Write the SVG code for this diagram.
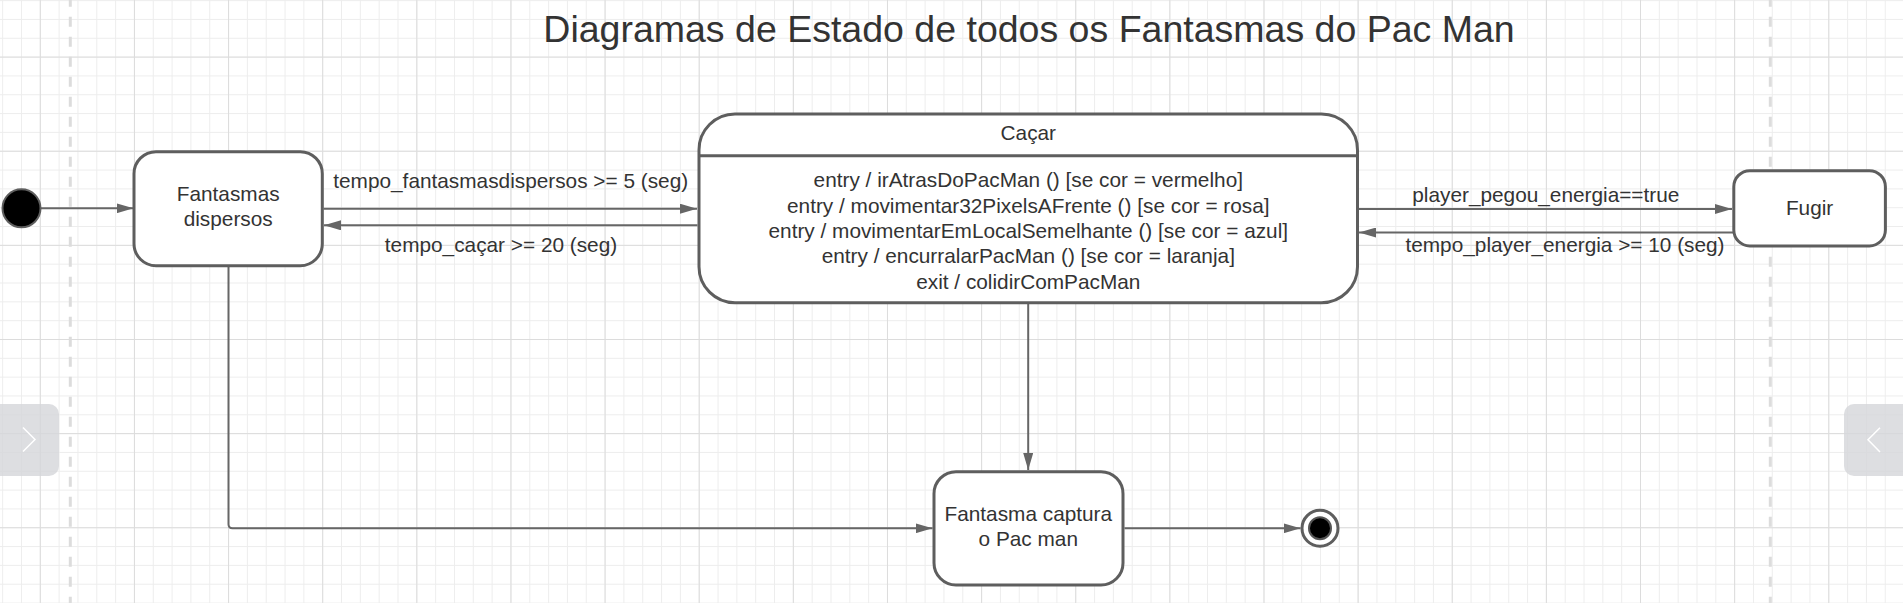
<svg xmlns="http://www.w3.org/2000/svg" width="1903" height="603" viewBox="0 0 1903 603">
<style>
.box{fill:#fff;stroke:#5e5e5e;stroke-width:3}
.t{font-family:"Liberation Sans",Arial,sans-serif;font-size:20.8px;fill:#333;text-anchor:middle}
.conn{fill:none;stroke:#666;stroke-width:2}
</style>
<defs>
<pattern id="gMinor" patternUnits="userSpaceOnUse" x="2.15" y="0.12" width="18.826" height="18.826">
<rect x="0" y="0" width="1" height="18.826" fill="#ededed"/>
<rect x="0" y="0" width="18.826" height="1" fill="#ededed"/>
</pattern>
<pattern id="gMajor" patternUnits="userSpaceOnUse" x="39.8" y="56.6" width="94.13" height="94.13">
<rect x="0" y="0" width="1" height="94.13" fill="#dcdcdc"/>
<rect x="0" y="0" width="94.13" height="1" fill="#dcdcdc"/>
</pattern>
<marker id="arr" markerUnits="userSpaceOnUse" markerWidth="18" markerHeight="10" refX="17" refY="5" orient="auto">
<path d="M0,0 L17,5 L0,10 Z" fill="#666"/>
</marker>
</defs>
<rect width="1903" height="603" fill="#fff"/>
<rect width="1903" height="603" fill="url(#gMinor)"/>
<rect width="1903" height="603" fill="url(#gMajor)"/>
<g stroke="#dcdcdc" stroke-width="3" stroke-dasharray="10 10" stroke-dashoffset="3.3">
<line x1="70.3" y1="0" x2="70.3" y2="603"/>
<line x1="1770.3" y1="0" x2="1770.3" y2="603"/>
</g>
<text x="1029" y="41.5" style="font-family:'Liberation Sans',Arial,sans-serif;font-size:37.5px;fill:#333;text-anchor:middle">Diagramas de Estado de todos os Fantasmas do Pac Man</text>
<g id="connectors">
<path class="conn" d="M41 208.3 H133.5" marker-end="url(#arr)"/>
<path class="conn" d="M323.5 208.7 H697" marker-end="url(#arr)"/>
<path class="conn" d="M697.5 225.3 H324" marker-end="url(#arr)"/>
<path class="conn" d="M1359 209 H1732" marker-end="url(#arr)"/>
<path class="conn" d="M1733 232.5 H1359" marker-end="url(#arr)"/>
<path class="conn" d="M1028.2 304 V470" marker-end="url(#arr)"/>
<path class="conn" d="M228.5 267 V524.3 Q228.5 528.3 232.5 528.3 H932.5" marker-end="url(#arr)"/>
<path class="conn" d="M1124.5 528.3 H1300.5" marker-end="url(#arr)"/>
<text class="t" x="510.7" y="188">tempo_fantasmasdispersos &gt;= 5 (seg)</text>
<text class="t" x="501" y="252">tempo_caçar &gt;= 20 (seg)</text>
<text class="t" x="1545.8" y="202">player_pegou_energia==true</text>
<text class="t" x="1565" y="252">tempo_player_energia &gt;= 10 (seg)</text>
</g>
<g id="initial">
<circle cx="21.5" cy="208.3" r="19" fill="#000" stroke="#5e5e5e" stroke-width="2"/>
</g>
<g id="fantasmas-dispersos">
<rect class="box" x="134" y="151.7" width="188.3" height="114" rx="22"/>
<text class="t" x="228.2" y="200.5">Fantasmas</text>
<text class="t" x="228.2" y="226">dispersos</text>
</g>
<g id="cacar">
<rect class="box" x="699" y="114" width="658.5" height="188.7" rx="36"/>
<line x1="699" y1="155.7" x2="1357.5" y2="155.7" stroke="#5e5e5e" stroke-width="3"/>
<text class="t" x="1028.3" y="140">Caçar</text>
<text class="t" x="1028.3" y="187">entry / irAtrasDoPacMan () [se cor = vermelho]</text>
<text class="t" x="1028.3" y="212.5">entry / movimentar32PixelsAFrente () [se cor = rosa]</text>
<text class="t" x="1028.3" y="238">entry / movimentarEmLocalSemelhante () [se cor = azul]</text>
<text class="t" x="1028.3" y="263.3">entry / encurralarPacMan () [se cor = laranja]</text>
<text class="t" x="1028.3" y="288.5">exit / colidirComPacMan</text>
</g>
<g id="fugir">
<rect class="box" x="1733.8" y="170.7" width="151.6" height="75.3" rx="16"/>
<text class="t" x="1809.6" y="215">Fugir</text>
</g>
<g id="fantasma-captura">
<rect class="box" x="934" y="471.7" width="189" height="113.3" rx="22"/>
<text class="t" x="1028.3" y="520.5">Fantasma captura</text>
<text class="t" x="1028.3" y="545.5">o Pac man</text>
</g>
<g id="final">
<circle cx="1320" cy="528.3" r="18" fill="#fff" stroke="#5e5e5e" stroke-width="3"/>
<circle cx="1320" cy="528.3" r="11" fill="#000" stroke="#555" stroke-width="2"/>
</g>
<g id="nav">
<rect x="-12" y="404" width="71" height="72" rx="10" fill="#d5d6d9" fill-opacity="0.8"/>
<polyline points="23,427.5 35,439.5 23,451.5" fill="none" stroke="#fff" stroke-width="1.5"/>
<rect x="1844" y="404" width="71" height="72" rx="10" fill="#d5d6d9" fill-opacity="0.8"/>
<polyline points="1880,427.7 1868,439.8 1880,452" fill="none" stroke="#fff" stroke-width="1.5"/>
</g>
</svg>
